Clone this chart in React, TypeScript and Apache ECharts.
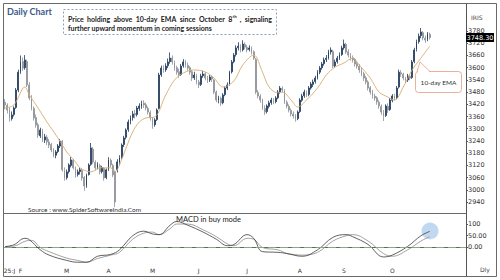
import React, { useEffect, useRef } from "react";
import * as echarts from "echarts";

// [open, close, low, high] per trading day
const ohlc: number[][] = [
  [3430,3417,3395,3445],[3415,3392,3375,3425],[3395,3353,3335,3405],[3350,3368,3340,3385],[3370,3402,3360,3410],
  [3405,3490,3398,3500],[3490,3578,3480,3590],[3580,3628,3570,3660],[3630,3598,3585,3650],[3600,3638,3590,3662],
  [3630,3515,3505,3640],[3515,3451,3440,3530],[3450,3402,3390,3465],[3400,3353,3340,3410],[3355,3318,3305,3370],
  [3320,3269,3255,3330],[3265,3294,3255,3305],[3290,3245,3235,3300],[3245,3260,3230,3275],[3258,3235,3220,3270],
  [3235,3220,3205,3250],[3222,3196,3185,3230],[3195,3171,3160,3205],[3170,3186,3155,3195],[3188,3215,3180,3225],
  [3215,3240,3205,3250],[3238,3098,3090,3245],[3095,3058,3045,3110],[3060,3088,3050,3100],[3090,3122,3080,3130],
  [3120,3147,3110,3160],[3145,3108,3100,3152],[3105,3073,3060,3115],[3075,3088,3065,3100],[3090,3098,3075,3110],
  [3095,3058,3045,3105],[3060,3019,2995,3068],[3020,3073,3010,3080],[3075,3122,3070,3130],[3125,3206,3118,3230],
  [3200,3137,3128,3210],[3135,3108,3095,3145],[3110,3122,3100,3135],[3120,3088,3075,3128],[3090,3108,3080,3118],
  [3105,3058,3045,3112],[3060,3098,3052,3105],[3100,3147,3092,3160],[3145,3122,3110,3155],[3120,3073,3062,3128],
  [3090,2940,2915,3095],[3100,3137,3085,3150],[3135,3157,3120,3170],[3160,3220,3150,3228],[3222,3255,3210,3265],
  [3258,3294,3248,3302],[3296,3333,3285,3345],[3335,3353,3322,3365],[3355,3373,3340,3388],[3375,3368,3350,3392],
  [3370,3402,3360,3412],[3400,3412,3388,3425],[3410,3422,3398,3438],[3425,3417,3402,3440],[3418,3402,3390,3428],
  [3400,3382,3370,3410],[3380,3353,3340,3390],[3350,3318,3300,3358],[3320,3343,3310,3352],[3345,3392,3338,3400],
  [3400,3564,3395,3575],[3565,3598,3555,3610],[3600,3589,3575,3612],[3590,3608,3580,3622],[3610,3628,3598,3645],
  [3630,3647,3620,3675],[3648,3628,3615,3660],[3625,3598,3585,3635],[3600,3578,3565,3610],[3580,3564,3550,3595],
  [3566,3608,3560,3618],[3610,3628,3600,3642],[3628,3613,3600,3638],[3612,3598,3585,3625],[3600,3578,3565,3608],
  [3580,3549,3535,3588],[3550,3564,3540,3580],[3562,3530,3518,3570],[3530,3515,3500,3540],[3518,3559,3510,3570],
  [3560,3569,3550,3585],[3570,3549,3538,3578],[3548,3539,3525,3560],[3540,3554,3530,3565],[3555,3544,3530,3562],
  [3540,3480,3470,3545],[3480,3441,3430,3488],[3440,3451,3425,3462],[3450,3427,3412,3458],[3428,3466,3420,3475],
  [3468,3500,3460,3508],[3500,3515,3490,3528],[3518,3578,3512,3585],[3580,3628,3572,3638],[3630,3662,3622,3672],
  [3665,3697,3655,3710],[3698,3706,3685,3725],[3705,3687,3675,3715],[3688,3716,3680,3735],[3715,3701,3690,3725],
  [3700,3687,3675,3712],[3690,3697,3680,3710],[3695,3677,3665,3705],[3678,3647,3638,3685],[3640,3480,3470,3648],
  [3478,3461,3450,3490],[3460,3441,3428,3470],[3440,3402,3392,3448],[3400,3382,3368,3415],[3385,3412,3375,3420],
  [3410,3427,3400,3438],[3428,3441,3418,3452],[3440,3432,3420,3450],[3433,3451,3425,3460],[3452,3480,3445,3490],
  [3482,3500,3472,3510],[3498,3490,3478,3508],[3488,3432,3422,3495],[3430,3412,3400,3440],[3410,3392,3380,3420],
  [3390,3373,3360,3400],[3372,3363,3350,3385],[3362,3348,3335,3372],[3350,3382,3342,3390],[3385,3441,3378,3450],
  [3440,3461,3432,3472],[3462,3480,3452,3492],[3478,3466,3455,3488],[3468,3500,3460,3510],[3500,3520,3492,3530],
  [3518,3530,3505,3542],[3532,3549,3522,3560],[3550,3578,3542,3588],[3578,3598,3568,3608],[3600,3618,3590,3628],
  [3620,3638,3610,3650],[3640,3647,3628,3662],[3648,3677,3640,3688],[3678,3687,3665,3700],[3680,3608,3598,3688],
  [3610,3628,3600,3640],[3630,3647,3620,3658],[3648,3662,3638,3675],[3665,3697,3658,3708],[3698,3716,3688,3738],
  [3715,3677,3668,3722],[3678,3662,3650,3690],[3660,3647,3635,3672],[3648,3638,3625,3660],[3640,3618,3605,3648],
  [3620,3608,3595,3630],[3608,3589,3575,3618],[3590,3569,3558,3600],[3570,3549,3535,3580],[3550,3530,3518,3560],
  [3530,3500,3488,3538],[3502,3480,3468,3510],[3480,3461,3448,3490],[3460,3451,3438,3472],[3452,3432,3418,3460],
  [3430,3412,3398,3440],[3410,3382,3368,3420],[3380,3363,3338,3392],[3365,3412,3358,3420],[3410,3392,3378,3425],
  [3395,3441,3388,3450],[3440,3461,3430,3470],[3462,3451,3440,3472],[3452,3500,3445,3510],[3505,3578,3498,3590],
  [3575,3569,3555,3588],[3568,3549,3538,3575],[3548,3539,3525,3555],[3540,3559,3530,3570],[3558,3549,3538,3568],
  [3552,3628,3545,3638],[3630,3687,3622,3698],[3690,3726,3680,3738],[3728,3755,3718,3768],[3758,3775,3745,3795],
  [3772,3746,3735,3780],[3745,3736,3722,3758],[3738,3765,3730,3775],[3764,3748.3,3738,3772],
];

// 10-day EMA read at sample days: [dayIndex, value]
const ema10: number[][] = [
  [0,3402],[4,3417],[9,3505],[11,3466],[15,3402],[19,3333],[24,3255],[28,3186],[32,3137],[34,3108],
  [39,3088],[43,3108],[48,3108],[50,3088],[52,3122],[55,3206],[58,3284],[61,3333],[64,3353],[68,3358],
  [73,3466],[77,3539],[81,3574],[86,3589],[91,3579],[95,3549],[99,3505],[104,3535],[108,3613],[113,3662],
  [117,3578],[120,3505],[124,3476],[126,3480],[130,3441],[133,3407],[137,3441],[142,3500],[146,3564],
  [150,3603],[154,3623],[158,3647],[161,3613],[166,3549],[170,3480],[174,3456],[177,3441],[181,3505],
  [185,3589],[189,3647],[193,3706],
];

// MACD line and signal line: [dayIndex, value]
const macdLine: number[][] = [
  [0,2],[4,10],[9,38],[11,32],[16,-12],[20,-35],[28,-58],[33,-66],[37,-66],[42,-40],[48,-32],[52,-12],
  [58,49],[63,69],[67,57],[70,54],[75,95],[78,111],[83,95],[90,65],[96,34],[101,6],[104,11],[110,54],
  [113,38],[117,-20],[124,-23],[128,-28],[135,-40],[142,-12],[149,42],[155,54],[158,45],[165,11],
  [172,-43],[176,-35],[183,3],[189,49],[193,68],
];
const signalLine: number[][] = [
  [0,2],[4,4],[9,25],[12,29],[16,-2],[20,-20],[28,-48],[33,-58],[37,-66],[42,-50],[48,-35],[52,-23],
  [58,34],[63,60],[67,65],[70,54],[75,80],[78,100],[83,100],[90,75],[96,45],[101,14],[104,6],[110,38],
  [113,34],[117,-2],[124,-12],[128,-28],[131,-32],[135,-35],[142,-23],[149,26],[155,49],[158,54],
  [165,26],[172,-28],[176,-40],[183,-12],[189,26],[193,45],
];

const priceTicks = [2940,3000,3060,3120,3180,3240,3300,3360,3420,3480,3540,3600,3660,3720,3780];
const macdTicks = [0, 50, 100];
const macdTickLabels = ["0.00", "50.00", "100"];
const monthLabels: [number, string][] = [
  [2,"25:J"],[7,"F"],[28,"M"],[47,"A"],[67,"M"],[88,"J"],[110,"J"],[134,"A"],[154,"S"],[176,"O"],
];
const lastPrice = "3748.30";
const emptyDaysAfter = 16;
const noteLine1Words = ["Price", "holding", "above", "10-day", "EMA", "since", "October", "8|th", ",", "signaling"];
const noteLine2 = "further upward momentum in coming sessions";

export default function App() {
  const ref = useRef<HTMLDivElement>(null);
  useEffect(() => {
    if (!ref.current) return;
    const chart = echarts.init(ref.current, undefined, { renderer: "svg" });
    const total = ohlc.length + emptyDaysAfter;
    const cats = Array.from({ length: total }, (_, i) => String(i));
    const labelMap: Record<number, string> = {};
    monthLabels.forEach(([i, s]) => (labelMap[i] = s));
    const axisFont = "DejaVu Sans";
    const textFont = "Lato";
    const mainFont = `bold 7px ${textFont}`;
    const supFont = `bold 4.5px ${textFont}`;

    // justify note line 1 across the box width
    const ctx = document.createElement("canvas").getContext("2d")!;
    const measure = (s: string, f: string) => { ctx.font = f; return ctx.measureText(s).width; };
    const wordWidths = noteLine1Words.map((w) => {
      const [base, sup] = w.split("|");
      return measure(base, mainFont) + (sup ? measure(sup, supFont) : 0);
    });
    const lineStart = 68, lineEnd = 272;
    const totalW = wordWidths.reduce((a, b) => a + b, 0);
    const gap = (lineEnd - lineStart - totalW) / (noteLine1Words.length - 1);
    let cx = lineStart;
    const wordEls: any[] = [];
    noteLine1Words.forEach((w, k) => {
      const [base, sup] = w.split("|");
      wordEls.push({ type: "text", x: cx, y: 19, z: 11, style: { text: base, font: mainFont, fill: "#222", verticalAlign: "middle" } });
      if (sup) {
        wordEls.push({ type: "text", x: cx + measure(base, mainFont) + 0.3, y: 16.8, z: 11, style: { text: sup, font: supFont, fill: "#222", verticalAlign: "middle" } });
      }
      cx += wordWidths[k] + gap;
    });

    chart.setOption({
      animation: false,
      backgroundColor: "#ffffff",
      grid: [
        { left: 4, right: 34, top: 4, height: 209 },
        { left: 4, right: 34, top: 213, height: 52 },
      ],
      xAxis: [
        {
          type: "category", gridIndex: 0, data: cats, boundaryGap: true,
          axisLine: { show: false }, axisTick: { show: false }, axisLabel: { show: false },
        },
        {
          type: "category", gridIndex: 1, data: cats, boundaryGap: true,
          axisLine: { show: true, lineStyle: { color: "#666", width: 1 } },
          axisTick: { show: false },
          axisLabel: {
            interval: 0, hideOverlap: false, fontSize: 6, color: "#333", margin: 2,
            fontFamily: axisFont,
            formatter: (_v: string, i: number) => labelMap[i] || "",
          },
        },
      ],
      yAxis: [
        {
          type: "value", gridIndex: 0, position: "right", min: 2886, max: 3913,
          axisLine: { show: true, lineStyle: { color: "#555", width: 1 } },
          axisTick: { show: true, length: 2, customValues: priceTicks, lineStyle: { color: "#555" } },
          axisLabel: {
            customValues: priceTicks, fontSize: 6.5, color: "#333", margin: 2, fontFamily: axisFont,
            formatter: (v: number) => String(v),
          },
          splitLine: { show: false },
        },
        {
          type: "value", gridIndex: 1, position: "right", min: -78, max: 148,
          axisLine: { show: true, lineStyle: { color: "#555", width: 1 } },
          axisTick: { show: true, length: 2, customValues: macdTicks, lineStyle: { color: "#555" } },
          axisLabel: {
            customValues: macdTicks, fontSize: 6.5, color: "#333", margin: 2, fontFamily: axisFont,
            formatter: (v: number) => macdTickLabels[macdTicks.indexOf(v)] ?? "",
          },
          splitLine: { show: false },
        },
      ],
      series: [
        {
          type: "candlestick", xAxisIndex: 0, yAxisIndex: 0, data: ohlc, barWidth: 1.4,
          itemStyle: {
            color: "#1f3a5c", color0: "#8d9196",
            borderColor: "#1f3a5c", borderColor0: "#8d9196", borderWidth: 0.8,
          },
        },
        {
          type: "line", xAxisIndex: 0, yAxisIndex: 0, data: ema10, smooth: 0.35,
          showSymbol: false, lineStyle: { color: "#d6ad72", width: 0.9 }, z: 3,
        },
        {
          type: "line", xAxisIndex: 1, yAxisIndex: 1, data: macdLine, smooth: 0.4,
          showSymbol: false, lineStyle: { color: "#3a3a3a", width: 0.8 }, z: 4,
          markLine: {
            silent: true, symbol: "none", label: { show: false },
            lineStyle: { color: "#86a886", width: 1, type: [8, 4] },
            data: [{ yAxis: 0 }],
          },
        },
        {
          type: "line", xAxisIndex: 1, yAxisIndex: 1, data: signalLine, smooth: 0.4,
          showSymbol: false, lineStyle: { color: "#8a8a8a", width: 0.8 }, z: 3,
        },
      ],
      graphic: [
        { type: "rect", shape: { x: 3.5, y: 3.5, width: 493, height: 273 }, style: { fill: "none", stroke: "#6a6a6a", lineWidth: 1 }, z: 10 },
        { type: "line", shape: { x1: 3.5, y1: 213.5, x2: 466, y2: 213.5 }, style: { stroke: "#6a6a6a", lineWidth: 1 }, z: 10 },
        { type: "line", shape: { x1: 466.5, y1: 265, x2: 466.5, y2: 276 }, style: { stroke: "#555", lineWidth: 1 }, z: 10 },
        { type: "circle", shape: { cx: 430, cy: 231, r: 8.5 }, style: { fill: "rgba(140,185,230,0.55)" }, z: 1 },
        { type: "text", x: 7, y: 11, style: { text: "Daily Chart", font: `bold 9px ${textFont}`, fill: "#3b5b8c", verticalAlign: "middle" }, z: 10 },
        { type: "rect", shape: { x: 63.5, y: 9.5, width: 213, height: 25 }, style: { fill: "#fff", stroke: "#8c9fb6", lineWidth: 1, lineDash: [2, 2] }, z: 10 },
        ...wordEls,
        { type: "text", x: 68, y: 28, z: 11, style: { text: noteLine2, font: mainFont, fill: "#222", verticalAlign: "middle" } },
        { type: "text", x: 28, y: 209, z: 10, style: { text: "Source : www.SpiderSoftwareIndia.Com", font: `6.5px ${textFont}`, fill: "#333", verticalAlign: "middle" } },
        { type: "text", x: 176, y: 219, z: 10, style: { text: "MACD in buy mode", font: `7.5px ${textFont}`, fill: "#222", verticalAlign: "middle" } },
        { type: "polygon", shape: { points: [[417, 71.5], [420, 62], [430, 71.5]] }, style: { fill: "#fff", stroke: "#e89c7e", lineWidth: 0.8 }, z: 10 },
        { type: "rect", shape: { x: 415.5, y: 71.5, width: 46, height: 21, r: 3 }, style: { fill: "#fff", stroke: "#e89c7e", lineWidth: 0.8 }, z: 10 },
        { type: "line", shape: { x1: 418, y1: 71.5, x2: 429, y2: 71.5 }, style: { stroke: "#fff", lineWidth: 1.2 }, z: 11 },
        { type: "text", x: 438.5, y: 82, z: 12, style: { text: "10-day EMA", font: `6.5px ${textFont}`, fill: "#333", align: "center", verticalAlign: "middle" } },
        { type: "text", x: 471, y: 17, z: 10, style: { text: "IRIS", font: `6px ${axisFont}`, fill: "#444", verticalAlign: "middle" } },
        { type: "rect", shape: { x: 466, y: 33, width: 28, height: 9 }, style: { fill: "#000" }, z: 12 },
        { type: "text", x: 480, y: 37.5, z: 13, style: { text: lastPrice, font: `6.5px ${axisFont}`, fill: "#fff", align: "center", verticalAlign: "middle" } },
        { type: "text", x: 480, y: 269, z: 10, style: { text: "Dly", font: `6px ${axisFont}`, fill: "#444", verticalAlign: "middle" } },
      ],
    });
    return () => chart.dispose();
  }, []);
  return <div ref={ref} style={{ position: "absolute", left: 0, top: 0, width: 500, height: 280 }} />;
}
